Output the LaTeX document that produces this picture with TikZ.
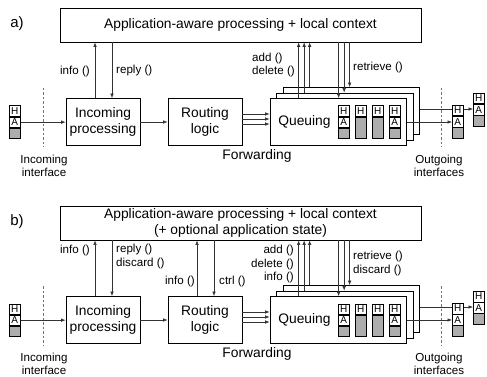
\documentclass[tikz,border=0pt]{standalone}
\usepackage{fontspec}
\setmainfont{Liberation Sans}
\usetikzlibrary{arrows.meta}
\newcommand{\mainsz}{\fontsize{13.8}{16.5}\selectfont}
\newcommand{\labsz}{\fontsize{11.6}{13.7}\selectfont}
\tikzset{
  box/.style={draw, fill=white, line width=0.7pt, minimum width=74pt, minimum height=47pt, inner sep=0pt, align=center, font=\mainsz},
  qbox/.style={box, minimum width=136.5pt},
  appbox/.style={box, minimum width=361pt, minimum height=34pt},
  cell/.style={draw, fill=white, line width=0.6pt, minimum width=11pt, minimum height=10.5pt, inner sep=0pt, font=\fontsize{10}{10}\selectfont},
  tail/.style={draw, fill=black!32, line width=0.6pt, minimum width=11pt, minimum height=10.5pt, inner sep=0pt},
  lbl/.style={font=\labsz, inner sep=0pt, align=left},
  conn/.style={-{Latex[length=4.5pt,width=3.5pt]}, line width=0.6pt, black!80},
  iface/.style={draw=black!55, line width=0.8pt, dash pattern=on 2.5pt off 2pt},
}
% packet icon: H, A and payload
\newcommand{\pkt}[2]{%
  \node[cell, anchor=north west] (#1h) at (#2) {H};
  \node[cell, anchor=north] (#1a) at (#1h.south) {A};
  \node[tail, anchor=north] (#1t) at (#1a.south) {};
}
% packet icon: H only
\newcommand{\hpkt}[2]{%
  \node[cell, anchor=north west] (#1h) at (#2) {H};
  \node[tail, anchor=north, minimum height=21pt] (#1t) at (#1h.south) {};
}
\begin{document}
\begin{tikzpicture}[x=1pt, y=-1pt]
  \useasboundingbox (0,0) rectangle (487,377);

  % ---- a) ----
  \node[font=\fontsize{15}{18}\selectfont] (alab) at (17,24) {a)};
  \node[appbox] (aapp) at (240.5,25) {Application-aware processing + local context};
  \node[box] (ainc) at (103,122) {Incoming\\processing};
  \node[box] (arout) at (205,122) {Routing\\logic};
  \node[qbox] (aq3) at (351.25,111) {};
  \node[qbox] (aq2) at (344.75,116.5) {};
  \node[qbox] (aq1) at (338.25,122) {};
  \node[font=\mainsz] (aqtxt) at (304.5,122) {Queuing};
  \pkt{aqp1}{338,105.5}
  \hpkt{aqp2}{355,105.5}
  \hpkt{aqp3}{372,105.5}
  \pkt{aqp4}{389,105.5}
  \pkt{ain}{9,105.5}

  \draw[iface] (43,88) -- (43,147);
  \draw[iface] (441,88) -- (441,147);
  \node[lbl, align=center] (aintxt) at (44,166) {Incoming\\interface};
  \node[lbl, align=center] (aouttxt) at (439,166) {Outgoing\\interfaces};
  \node[font=\mainsz] (afwd) at (257,156) {Forwarding};

  \draw[conn] (aina.east) -- (aina.east -| ainc.west);
  \draw[conn] (ainc) -- (arout);
  \draw[conn] ([yshift=8pt]arout.east) -- ([yshift=8pt]aq1.west);
  \draw[conn] ([yshift=3pt]arout.east) -- ([yshift=3pt]aq1.west);
  \draw[conn] ([yshift=-2pt]arout.east) -- ([yshift=-2pt]aq1.west);

  \draw[conn] ([xshift=-8pt]ainc.north) -- ([xshift=-8pt]ainc.north |- aapp.south);
  \draw[conn] ([xshift=9pt]ainc.north |- aapp.south) -- ([xshift=9pt]ainc.north);
  \node[lbl, anchor=east] (ainfo) at (90,71) {info ()};
  \node[lbl, anchor=west] (areply) at (116,71) {reply ()};

  \draw[conn] ([xshift=29pt]aq1.north west) -- ([xshift=29pt]aq1.north west |- aapp.south);
  \draw[conn] ([xshift=28pt]aq2.north west) -- ([xshift=28pt]aq2.north west |- aapp.south);
  \draw[conn] ([xshift=27pt]aq3.north west) -- ([xshift=27pt]aq3.north west |- aapp.south);
  \draw[conn] ([xshift=69pt]aq1.north west |- aapp.south) -- ([xshift=69pt]aq1.north west);
  \draw[conn] ([xshift=68pt]aq2.north west |- aapp.south) -- ([xshift=68pt]aq2.north west);
  \draw[conn] ([xshift=67pt]aq3.north west |- aapp.south) -- ([xshift=67pt]aq3.north west);
  \node[lbl, anchor=west] (aadd) at (252,65) {add ()\\delete ()};
  \node[lbl, anchor=west] (aretr) at (353,67) {retrieve ()};

  \pkt{aout2}{473,93}
  \draw[conn] ([yshift=2pt]aq3.east) -- ([yshift=2pt]aq3.east -| aout2a.west);
  \pkt{aout1}{452,105}
  \draw[conn] (aq1.east) -- (aq1.east -| aout1a.west);

  % ---- b) ----
  \node[font=\fontsize{15}{18}\selectfont] (blab) at (17,222) {b)};
  \node[appbox] (bapp) at (240.5,223) {Application-aware processing + local context\\(+ optional application state)};
  \node[box] (binc) at (103,320) {Incoming\\processing};
  \node[box] (brout) at (205,320) {Routing\\logic};
  \node[qbox] (bq3) at (351.25,309) {};
  \node[qbox] (bq2) at (344.75,314.5) {};
  \node[qbox] (bq1) at (338.25,320) {};
  \node[font=\mainsz] (bqtxt) at (304.5,320) {Queuing};
  \pkt{bqp1}{338,303.5}
  \hpkt{bqp2}{355,303.5}
  \hpkt{bqp3}{372,303.5}
  \pkt{bqp4}{389,303.5}
  \pkt{bin}{9,303.5}

  \draw[iface] (43,286) -- (43,345);
  \draw[iface] (441,286) -- (441,345);
  \node[lbl, align=center] (bintxt) at (44,364) {Incoming\\interface};
  \node[lbl, align=center] (bouttxt) at (439,364) {Outgoing\\interfaces};
  \node[font=\mainsz] (bfwd) at (257,354) {Forwarding};

  \draw[conn] (bina.east) -- (bina.east -| binc.west);
  \draw[conn] (binc) -- (brout);
  \draw[conn] ([yshift=8pt]brout.east) -- ([yshift=8pt]bq1.west);
  \draw[conn] ([yshift=3pt]brout.east) -- ([yshift=3pt]bq1.west);
  \draw[conn] ([yshift=-2pt]brout.east) -- ([yshift=-2pt]bq1.west);

  \draw[conn] ([xshift=-8pt]binc.north) -- ([xshift=-8pt]binc.north |- bapp.south);
  \draw[conn] ([xshift=9pt]binc.north |- bapp.south) -- ([xshift=9pt]binc.north);
  \node[lbl, anchor=east] (binfo) at (90,250) {info ()};
  \node[lbl, anchor=west] (breply) at (116,256.5) {reply ()\\discard ()};

  \draw[conn] ([xshift=-8pt]brout.north) -- ([xshift=-8pt]brout.north |- bapp.south);
  \draw[conn] ([xshift=9pt]brout.north |- bapp.south) -- ([xshift=9pt]brout.north);
  \node[lbl, anchor=east] (brinfo) at (195,281) {info ()};
  \node[lbl, anchor=west] (bctrl) at (219,281) {ctrl ()};

  \draw[conn] ([xshift=29pt]bq1.north west) -- ([xshift=29pt]bq1.north west |- bapp.south);
  \draw[conn] ([xshift=28pt]bq2.north west) -- ([xshift=28pt]bq2.north west |- bapp.south);
  \draw[conn] ([xshift=27pt]bq3.north west) -- ([xshift=27pt]bq3.north west |- bapp.south);
  \draw[conn] ([xshift=69pt]bq1.north west |- bapp.south) -- ([xshift=69pt]bq1.north west);
  \draw[conn] ([xshift=68pt]bq2.north west |- bapp.south) -- ([xshift=68pt]bq2.north west);
  \draw[conn] ([xshift=67pt]bq3.north west |- bapp.south) -- ([xshift=67pt]bq3.north west);
  \node[lbl, anchor=east, align=right] (badd) at (294,264) {add ()\\delete ()\\info ()};
  \node[lbl, anchor=west] (bretr) at (353,263.5) {retrieve ()\\discard ()};

  \pkt{bout2}{473,291}
  \draw[conn] ([yshift=2pt]bq3.east) -- ([yshift=2pt]bq3.east -| bout2a.west);
  \pkt{bout1}{452,303}
  \draw[conn] (bq1.east) -- (bq1.east -| bout1a.west);
\end{tikzpicture}
\end{document}
